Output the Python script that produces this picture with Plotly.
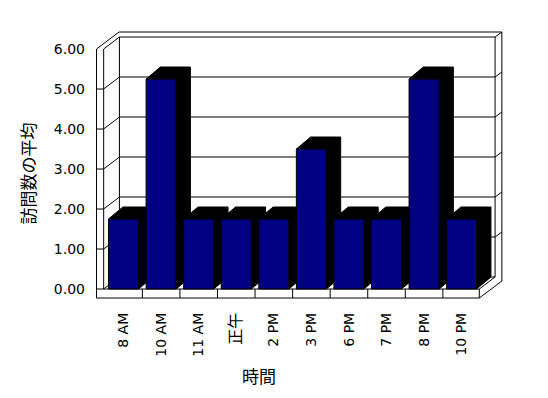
import plotly.graph_objects as go

# ---- data ----
categories = ["8 AM", "10 AM", "11 AM", "正午", "2 PM", "3 PM", "6 PM", "7 PM", "8 PM", "10 PM"]
values = [1.75, 5.25, 1.75, 1.75, 1.75, 3.50, 1.75, 1.75, 5.25, 1.75]
y_ticks = [0, 1, 2, 3, 4, 5, 6]
y_title = "訪問数の平均"
x_title = "時間"

# ---- 3D frame geometry (data units) ----
FL, FR = -0.53, 9.47        # front plane left / right
WT = 0.19                    # left wall thickness
FT = 0.225                   # floor thickness
DX, DY = 0.42, 0.30          # depth offset front -> back wall
TX, TY = 0.18, 0.125         # back wall thickness
YMAX = y_ticks[-1]
BW = 0.8                     # bar width
BX, BY = 0.38, 0.30          # bar depth offset

LINE = dict(color="black", width=1)
shapes = []

def path(pts, close=True):
    s = "M " + " L ".join(f"{x},{y}" for x, y in pts)
    return s + (" Z" if close else "")

def add_poly(pts, fill=None, close=True):
    shapes.append(dict(type="path", xref="x", yref="y", path=path(pts, close),
                       fillcolor=fill if fill else "rgba(0,0,0,0)",
                       line=LINE, layer="below"))

def add_line(p, q):
    add_poly([p, q], close=False)

# outer silhouette
add_poly([(FL - WT, -FT), (FL - WT, YMAX), (FL - WT + DX + TX, YMAX + DY + TY),
          (FR + DX + TX, YMAX + DY + TY), (FR + DX + TX, -FT + DY + TY), (FR, -FT)], fill="white")
# left wall
add_line((FL, YMAX), (FL, 0))
add_line((FL, YMAX), (FL + DX, YMAX + DY))
add_line((FL, 0), (FL + DX, DY))
# back wall inner face
add_poly([(FL + DX, DY), (FL + DX, YMAX + DY), (FR + DX, YMAX + DY), (FR + DX, DY)])
add_line((FR + DX, YMAX + DY), (FR + DX + TX, YMAX + DY + TY))
# floor
add_line((FL - WT, 0), (FR, 0))
add_line((FR, 0), (FR, -FT))
add_line((FR, 0), (FR + DX, DY))
# gridlines
for v in y_ticks[1:-1]:
    add_poly([(FL - WT, v), (FL, v), (FL + DX, v + DY), (FR + DX, v + DY),
              (FR + DX + TX, v + DY + TY)], close=False)
# category tick marks on floor front
for i in range(len(categories) - 1):
    add_line((i + 0.5, 0), (i + 0.5, -FT))

# bar extrusions (top + side), behind the front faces
for i, v in enumerate(values):
    xl, xr = i - BW / 2, i + BW / 2
    add_poly([(xr, 0), (xr + BX, BY), (xr + BX, v + BY), (xl + BX, v + BY), (xl, v), (xr, v)],
             fill="black")

def tick_text(c):
    if any(ord(ch) > 0x2E80 for ch in c):
        return f"<span style='font-family:Noto Sans CJK JP;font-size:16px'>{c}</span>"
    return c

fig = go.Figure()
fig.add_trace(go.Bar(x=list(range(len(categories))), y=values, width=BW,
                     marker=dict(color="#000080", line=dict(color="black", width=1)),
                     hovertext=categories, showlegend=False))

L, R, T, B = 86.45, 30.3, 9, 89
fig.update_layout(
    width=548, height=398,
    margin=dict(l=L, r=R, t=T, b=B, pad=0),
    paper_bgcolor="white", plot_bgcolor="white",
    shapes=shapes,
    font=dict(family="DejaVu Sans", size=14, color="black"),
    xaxis=dict(range=[-1, 10.5], tickvals=list(range(len(categories))),
               ticktext=[tick_text(c) for c in categories],
               tickangle=-90, showgrid=False, zeroline=False, showline=False, ticks="",
               tickfont=dict(family="DejaVu Sans, Noto Sans CJK JP", size=14)),
    yaxis=dict(range=[-0.5, 7], tickvals=y_ticks, ticktext=[f"{t:.2f}" for t in y_ticks],
               showgrid=False, zeroline=False, showline=False, ticks="",
               tickfont=dict(family="DejaVu Sans", size=14)),
    annotations=[
        dict(text=y_title, xref="paper", yref="paper", x=-0.1355, y=0.4533,
             xanchor="center", yanchor="middle", textangle=-90, showarrow=False,
             font=dict(family="Noto Sans CJK JP", size=17)),
        dict(text=x_title, xref="paper", yref="paper", x=0.4001, y=-0.2233,
             xanchor="center", yanchor="middle", showarrow=False,
             font=dict(family="Noto Sans CJK JP", size=17)),
    ],
)

fig.write_html("out.html")
